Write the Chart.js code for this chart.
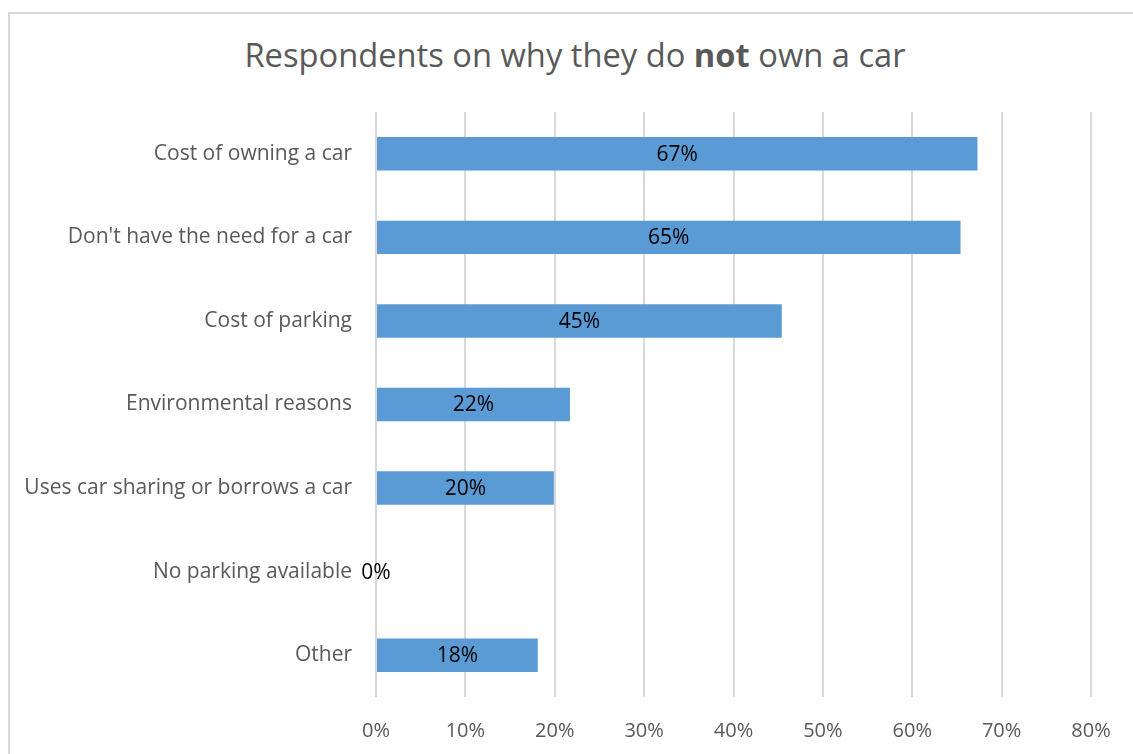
<!DOCTYPE html>
<html>
<head>
<meta charset="utf-8">
<script src="https://cdn.jsdelivr.net/npm/chart.js@4"></script>
<style>
  html, body { margin: 0; padding: 0; background: #fff; overflow: hidden; }
  #wrap { position: relative; width: 1133px; height: 754px; }
  #frame { position: absolute; left: 8px; top: 12px; width: 1200px; height: 800px;
           border: 2px solid #d9d9d9; box-sizing: border-box; }
  #title { position: absolute; left: 0; width: 1150px; top: 30px; margin: 0;
           text-align: center; font-family: "Open Sans", sans-serif; font-weight: normal;
           font-size: 32.7px; color: #595959; line-height: 50px; }
  #title b { font-weight: bold; }
  canvas { position: absolute; left: 0; top: 0; }
</style>
</head>
<body>
<div id="wrap">
  <div id="frame"></div>
  <h1 id="title">Respondents on why they do <b>not</b> own a car</h1>
  <canvas id="reasonsChart" width="1133" height="754"></canvas>
</div>
<script>
// Survey answers (share of respondents, %)
const reasons = [
    'Cost of owning a car',
    "Don't have the need for a car",
    'Cost of parking',
    'Environmental reasons',
    'Uses car sharing or borrows a car',
    'No parking available',
    'Other'
];
const shares = [67.3, 65.4, 45.4, 21.7, 19.9, 0, 18.1];
const axisTicks = [0, 10, 20, 30, 40, 50, 60, 70, 80];

const labelFont = { family: 'Open Sans', size: 21 };
const tickFont = { family: 'Open Sans', size: 20 };

// Writes the rounded percentage in the middle of every bar
const barValueLabels = {
    id: 'barValueLabels',
    afterDatasetsDraw(chart) {
        const ctx = chart.ctx;
        const meta = chart.getDatasetMeta(0);
        ctx.save();
        ctx.font = labelFont.size + 'px "' + labelFont.family + '"';
        ctx.fillStyle = '#000';
        ctx.textAlign = 'center';
        ctx.textBaseline = 'middle';
        meta.data.forEach((bar, i) => {
            const v = chart.data.datasets[0].data[i];
            const cx = (bar.x + bar.base) / 2;
            ctx.fillText(Math.round(v) + '%', cx, bar.y + 1);
        });
        ctx.restore();
    }
};

const ctx = document.getElementById('reasonsChart').getContext('2d');
const reasonsChart = new Chart(ctx, {
    type: 'bar',
    data: {
        labels: reasons,
        datasets: [{
            data: shares,
            backgroundColor: '#5b9bd5',
            borderWidth: 0,
            barPercentage: 0.4,
            categoryPercentage: 1
        }]
    },
    options: {
        indexAxis: 'y',
        responsive: false,
        animation: false,
        layout: { padding: { left: 9, right: 42, top: 112, bottom: 0 } },
        plugins: {
            legend: { display: false },
            tooltip: { enabled: false }
        },
        scales: {
            x: {
                min: 0,
                max: 80,
                afterBuildTicks(scale) {
                    scale.ticks = axisTicks.map(v => ({ value: v }));
                },
                afterFit(scale) { scale.height = 57; },
                grid: { color: '#d9d9d9', lineWidth: 2, drawTicks: false },
                border: { display: false },
                ticks: {
                    padding: 22,
                    color: '#595959',
                    font: tickFont,
                    callback: v => v + '%'
                }
            },
            y: {
                afterFit(scale) { scale.width = 376 - 9; },
                grid: { display: false, drawTicks: false },
                border: { display: false },
                ticks: {
                    padding: 24,
                    color: '#595959',
                    font: labelFont
                }
            }
        }
    },
    plugins: [barValueLabels]
});
</script>
</body>
</html>
